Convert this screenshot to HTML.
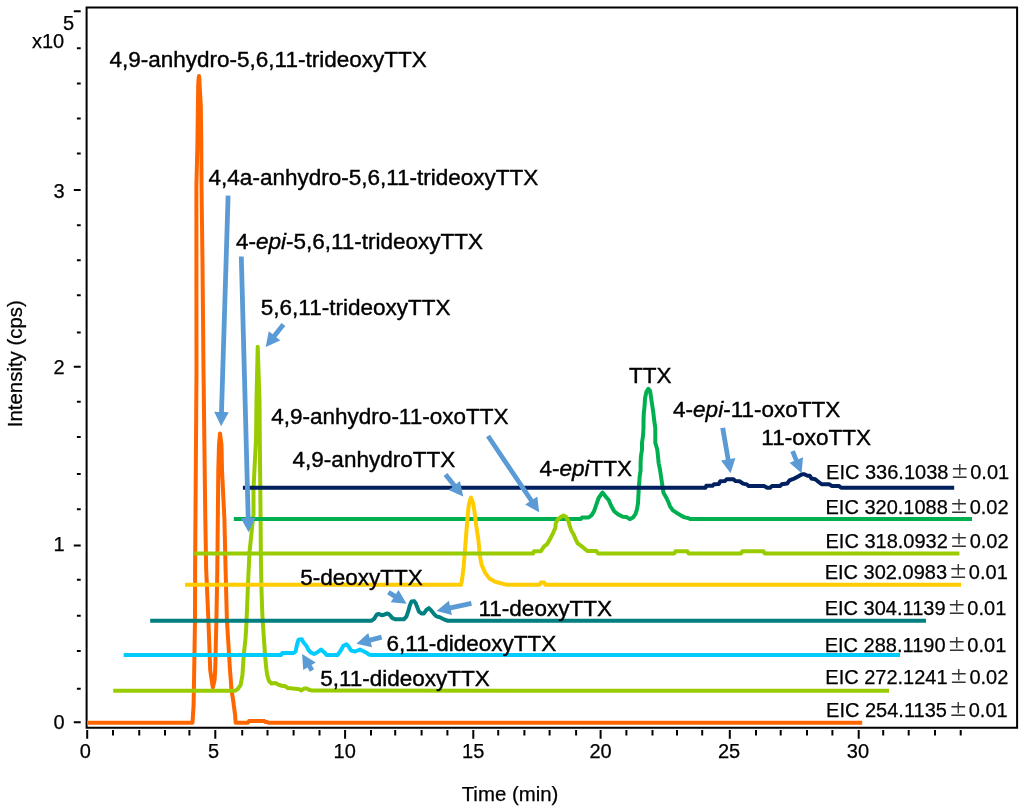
<!DOCTYPE html><html><head><meta charset="utf-8"><title>EIC chromatogram</title><style>html,body{margin:0;padding:0;background:#fff;}svg{display:block;}text{font-family:"Liberation Sans", Arial, sans-serif;fill:#000;}</style></head><body>
<svg width="1024" height="812" viewBox="0 0 1024 812">
<rect x="0" y="0" width="1024" height="812" fill="#fff"/>
<path d="M86.6 7.6 H1017.1 V727.8 H86.6 Z" fill="none" stroke="#000" stroke-width="2"/>
<path d="M73.8 722.25H80.7M73.8 545.6H80.7M73.8 366.7H80.7M73.8 189.9H80.7M73.8 11.3H80.7M76.9 48.3H80.7M76.9 83.5H80.7M76.9 118.5H80.7M76.9 153.6H80.7M76.9 225.2H80.7M76.9 260.3H80.7M76.9 295.2H80.7M76.9 332.6H80.7M76.9 401.8H80.7M76.9 436.9H80.7M76.9 474.1H80.7M76.9 509.2H80.7M76.9 579.8H80.7M76.9 615.8H80.7M76.9 651.1H80.7M76.9 688.7H80.7" stroke="#000" stroke-width="2" fill="none"/>
<text x="64.6" y="728.5" font-size="20" text-anchor="end" stroke="#000" stroke-width="0.25">0</text>
<text x="64.6" y="551.3" font-size="20" text-anchor="end" stroke="#000" stroke-width="0.25">1</text>
<text x="64.6" y="374.3" font-size="20" text-anchor="end" stroke="#000" stroke-width="0.25">2</text>
<text x="64.6" y="197.5" font-size="20" text-anchor="end" stroke="#000" stroke-width="0.25">3</text>
<path d="M87.20 730.1V738.8M113.00 730.1V735.5M139.25 730.1V735.5M165.00 730.1V735.5M189.40 730.1V735.5M215.30 730.1V738.8M242.20 730.1V735.5M267.50 730.1V735.5M293.60 730.1V735.5M319.50 730.1V735.5M345.10 730.1V738.8M371.00 730.1V735.5M395.20 730.1V735.5M421.60 730.1V735.5M447.40 730.1V735.5M473.30 730.1V738.8M498.20 730.1V735.5M524.40 730.1V735.5M549.60 730.1V735.5M576.10 730.1V735.5M600.60 730.1V738.8M626.40 730.1V735.5M652.50 730.1V735.5M677.00 730.1V735.5M702.20 730.1V735.5M729.80 730.1V738.8M756.00 730.1V735.5M780.70 730.1V735.5M807.00 730.1V735.5M832.40 730.1V735.5M858.70 730.1V738.8M883.20 730.1V735.5M908.70 730.1V735.5M935.00 730.1V735.5M960.70 730.1V735.5" stroke="#000" stroke-width="2" fill="none"/>
<text x="85.30" y="758" font-size="20" text-anchor="middle" stroke="#000" stroke-width="0.25">0</text>
<text x="213.60" y="758" font-size="20" text-anchor="middle" stroke="#000" stroke-width="0.25">5</text>
<text x="344.70" y="758" font-size="20" text-anchor="middle" stroke="#000" stroke-width="0.25">10</text>
<text x="473.20" y="758" font-size="20" text-anchor="middle" stroke="#000" stroke-width="0.25">15</text>
<text x="600.50" y="758" font-size="20" text-anchor="middle" stroke="#000" stroke-width="0.25">20</text>
<text x="729.00" y="758" font-size="20" text-anchor="middle" stroke="#000" stroke-width="0.25">25</text>
<text x="857.90" y="758" font-size="20" text-anchor="middle" stroke="#000" stroke-width="0.25">30</text>
<text x="510" y="800.8" font-size="20.4" text-anchor="middle" stroke="#000" stroke-width="0.25">Time (min)</text>
<text transform="translate(22.2 363.7) rotate(-90)" x="0" y="0" font-size="20.4" text-anchor="middle" stroke="#000" stroke-width="0.25">Intensity (cps)</text>
<text x="32" y="48.1" font-size="20" stroke="#000" stroke-width="0.25">x10</text>
<text x="63" y="30.2" font-size="20" stroke="#000" stroke-width="0.25">5</text>
<path d="M87.0 722.7 L192.5 722.7 L193.6 705.0 L194.2 670.0 L195.0 620.0 L195.1 570.0 L195.8 470.0 L196.5 370.0 L196.4 265.0 L196.4 185.0 L197.4 145.0 L197.9 105.0 L198.2 85.0 L198.6 78.5 L199.0 76.0 L199.4 78.5 L199.6 85.0 L200.8 105.0 L201.3 145.0 L201.5 185.0 L202.0 224.0 L202.5 264.0 L203.5 370.0 L204.7 470.0 L205.3 519.0 L206.2 570.0 L208.4 620.0 L210.2 670.0 L212.8 687.5 L214.6 680.0 L215.2 670.0 L216.4 620.0 L217.3 570.0 L218.3 470.0 L219.0 445.0 L220.0 433.5 L221.5 445.0 L222.0 470.0 L224.4 519.0 L225.6 570.0 L226.9 620.0 L230.0 670.0 L231.5 690.0 L233.1 700.0 L235.1 715.0 L235.6 722.7 L247.8 722.7 L249.0 721.1 L264.5 721.1 L265.5 722.1 L267.5 722.1 L268.5 722.7 L862.2 722.7" fill="none" stroke="#FF6600" stroke-width="4" stroke-linejoin="round" stroke-linecap="butt"/>
<path d="M113.2 690.7 L235.5 690.7 L237.5 689.2 L240.5 685.3 L242.4 675.4 L243.6 657.0 L245.5 638.5 L246.3 626.0 L247.3 601.6 L248.3 577.0 L249.5 552.0 L250.8 540.0 L252.2 526.0 L253.5 514.0 L253.5 489.0 L254.7 464.6 L256.0 440.0 L256.5 400.0 L257.7 346.8 L259.5 400.0 L259.8 440.0 L260.2 480.0 L260.6 520.0 L260.9 560.0 L261.5 590.0 L262.3 614.0 L263.3 630.0 L263.9 638.5 L265.2 657.0 L266.4 669.5 L267.4 675.9 L269.0 681.0 L271.5 683.5 L275.3 682.9 L278.5 684.8 L281.7 685.7 L285.5 686.3 L287.4 687.9 L293.1 688.6 L299.4 689.2 L301.3 690.5 L303.9 688.6 L307.1 688.6 L309.0 689.8 L312.0 690.6 L889.0 690.7" fill="none" stroke="#99CC00" stroke-width="4" stroke-linejoin="round" stroke-linecap="butt"/>
<path d="M123.6 655.1 L280.9 655.1 L282.4 653.0 L293.6 653.0 L295.6 651.5 L297.0 644.7 L298.5 639.8 L301.9 639.3 L303.4 642.3 L306.3 645.7 L308.3 649.6 L310.7 652.5 L314.1 654.0 L317.1 652.5 L321.0 649.6 L323.9 652.0 L326.8 655.0 L337.6 655.0 L340.5 651.0 L343.4 645.7 L346.4 644.2 L348.3 646.2 L351.2 650.6 L355.1 651.5 L360.0 649.6 L363.0 651.0 L366.9 653.0 L368.8 654.5 L371.8 655.1 L900.0 655.1" fill="none" stroke="#00CCFF" stroke-width="4" stroke-linejoin="round" stroke-linecap="butt"/>
<path d="M150.2 620.7 L371.6 620.7 L374.1 618.9 L376.6 614.7 L378.3 613.9 L381.6 615.2 L384.1 614.7 L387.4 613.5 L389.1 614.3 L392.4 618.1 L395.7 619.3 L404.0 619.3 L406.5 616.4 L408.2 611.4 L409.8 605.6 L411.5 601.5 L414.0 601.1 L415.6 603.1 L417.3 607.3 L418.9 611.4 L421.4 613.5 L423.9 613.5 L426.4 609.8 L428.9 608.1 L431.4 610.6 L433.9 613.9 L436.4 616.4 L439.7 617.2 L442.2 618.5 L444.7 619.7 L447.2 620.7 L926.0 620.7" fill="none" stroke="#008080" stroke-width="4" stroke-linejoin="round" stroke-linecap="butt"/>
<path d="M233.8 519.1 L580.8 519.1 L582.0 517.5 L588.6 517.5 L591.7 515.2 L594.1 511.0 L597.0 502.7 L598.6 498.0 L602.5 492.5 L605.6 496.4 L608.8 500.3 L611.1 505.8 L614.2 511.3 L618.1 514.4 L622.8 516.7 L626.7 517.1 L629.8 519.1 L633.0 517.5 L635.3 514.4 L636.9 509.7 L638.0 503.4 L638.4 495.6 L638.8 487.8 L639.2 483.8 L639.6 477.0 L640.6 470.2 L640.6 463.3 L640.9 456.5 L642.0 449.7 L642.0 442.8 L643.0 436.0 L643.5 428.0 L643.5 420.6 L643.8 413.2 L644.6 405.8 L645.0 398.5 L646.4 391.8 L648.3 388.8 L650.1 391.1 L651.2 398.5 L652.3 405.8 L653.4 413.2 L654.2 420.6 L655.3 428.0 L655.3 442.8 L657.3 449.7 L658.0 456.5 L658.7 463.3 L660.1 470.2 L661.1 477.0 L662.1 483.8 L663.5 492.8 L665.9 496.9 L668.2 501.6 L670.0 506.3 L672.9 510.4 L676.4 512.7 L681.1 515.6 L684.6 517.4 L688.1 518.0 L690.5 519.1 L972.0 519.1" fill="none" stroke="#00B050" stroke-width="4" stroke-linejoin="round" stroke-linecap="butt"/>
<path d="M242.9 487.7 L705.5 487.7 L706.3 485.8 L712.5 485.8 L714.1 484.2 L718.8 484.0 L720.3 481.3 L725.0 480.9 L726.6 479.3 L733.6 479.3 L735.2 480.9 L739.8 481.3 L743.0 483.6 L746.9 484.4 L748.4 486.0 L764.1 486.0 L767.2 487.7 L770.3 487.7 L771.9 486.0 L780.2 485.9 L781.7 484.3 L787.2 483.5 L789.5 480.4 L792.7 479.2 L795.0 478.1 L798.1 476.5 L802.0 474.2 L804.4 474.2 L807.5 475.7 L809.8 475.7 L811.4 478.5 L815.3 479.2 L817.7 481.2 L821.6 484.3 L829.4 484.3 L831.7 485.9 L838.8 485.9 L841.1 487.7 L954.2 487.7" fill="none" stroke="#002060" stroke-width="4" stroke-linejoin="round" stroke-linecap="butt"/>
<path d="M185.1 584.7 L461.0 584.7 L461.9 580.7 L463.6 566.9 L465.3 546.2 L466.6 529.0 L467.6 516.9 L468.8 504.8 L470.9 497.6 L473.1 503.1 L474.5 511.7 L476.2 525.5 L478.3 539.3 L480.0 556.6 L481.7 565.2 L485.2 572.9 L489.5 578.6 L494.7 581.6 L499.0 582.8 L504.1 584.1 L506.0 584.7 L539.8 584.7 L540.8 582.6 L544.2 582.6 L545.2 584.7 L961.0 584.7" fill="none" stroke="#FFCC00" stroke-width="4" stroke-linejoin="round" stroke-linecap="butt"/>
<path d="M194.2 553.4 L533.1 553.4 L534.0 551.2 L540.9 551.2 L544.1 546.4 L547.2 544.1 L550.3 538.6 L553.4 532.3 L555.4 527.7 L555.8 523.0 L558.1 519.1 L561.3 516.7 L563.6 515.4 L565.9 516.7 L568.3 520.6 L569.8 526.1 L571.4 530.8 L573.8 534.7 L575.3 538.6 L577.7 543.3 L580.8 545.6 L584.7 548.8 L587.8 551.1 L596.4 551.1 L598.0 553.4 L674.4 553.4 L675.5 551.3 L687.3 551.3 L688.4 553.4 L741.2 553.4 L742.3 551.3 L763.5 551.3 L764.6 553.4 L959.4 553.4" fill="none" stroke="#99CC00" stroke-width="4" stroke-linejoin="round" stroke-linecap="butt"/>
<polygon points="225.7,195.6 219.1,411.9 214.2,411.8 221.1,426.2 228.8,412.2 223.9,412.1 230.5,195.8" fill="#5B9BD5"/>
<polygon points="238.9,256.6 245.8,518.1 240.9,518.2 248.6,532.2 255.5,517.8 250.6,517.9 243.7,256.4" fill="#5B9BD5"/>
<polygon points="281.5,323.1 272.6,334.3 268.8,331.3 265.7,346.9 280.2,340.4 276.4,337.3 285.3,326.1" fill="#5B9BD5"/>
<polygon points="486.0,437.3 529.3,501.8 525.2,504.6 539.2,512.3 537.3,496.4 533.3,499.2 490.0,434.7" fill="#5B9BD5"/>
<polygon points="443.6,476.0 452.5,487.0 448.6,490.1 463.2,496.5 460.0,480.9 456.2,484.0 447.4,473.0" fill="#5B9BD5"/>
<polygon points="720.3,428.2 725.8,459.7 721.0,460.6 730.6,473.3 735.4,458.0 730.5,458.9 725.1,427.4" fill="#5B9BD5"/>
<polygon points="790.4,452.1 794.0,461.0 789.5,462.8 801.6,473.2 803.0,457.3 798.4,459.2 794.8,450.3" fill="#5B9BD5"/>
<polygon points="387.1,594.2 393.3,598.2 390.7,602.3 406.6,603.8 398.5,590.0 395.9,594.1 389.7,590.2" fill="#5B9BD5"/>
<polygon points="470.9,601.1 449.9,605.6 448.9,600.8 436.5,610.9 451.9,615.1 450.9,610.3 471.9,605.7" fill="#5B9BD5"/>
<polygon points="381.0,634.8 369.5,637.8 368.3,633.1 356.4,643.8 372.0,647.2 370.8,642.5 382.2,639.4" fill="#5B9BD5"/>
<polygon points="314.1,669.3 311.5,665.0 315.7,662.4 302.1,654.0 303.2,669.9 307.4,667.4 309.9,671.7" fill="#5B9BD5"/>
<text x="109.5" y="67.3" font-size="22.5" stroke="#000" stroke-width="0.4">4,9-anhydro-5,6,11-trideoxyTTX</text>
<text x="208.6" y="185.2" font-size="22.5" stroke="#000" stroke-width="0.4">4,4a-anhydro-5,6,11-trideoxyTTX</text>
<text x="235.9" y="249.3" font-size="22.5" stroke="#000" stroke-width="0.4">4-<tspan font-style="italic">epi</tspan>-5,6,11-trideoxyTTX</text>
<text x="260.8" y="315.2" font-size="22.5" stroke="#000" stroke-width="0.4">5,6,11-trideoxyTTX</text>
<text x="271.3" y="424.3" font-size="22.5" stroke="#000" stroke-width="0.4">4,9-anhydro-11-oxoTTX</text>
<text x="292.6" y="466.8" font-size="22.5" stroke="#000" stroke-width="0.4">4,9-anhydroTTX</text>
<text x="539.5" y="476.2" font-size="22.5" stroke="#000" stroke-width="0.4">4-<tspan font-style="italic">epi</tspan>TTX</text>
<text x="629.1" y="382.6" font-size="22.5" stroke="#000" stroke-width="0.4">TTX</text>
<text x="673.1" y="417.3" font-size="22.5" stroke="#000" stroke-width="0.4">4-<tspan font-style="italic">epi</tspan>-11-oxoTTX</text>
<text x="761.3" y="445.1" font-size="22.5" stroke="#000" stroke-width="0.4">11-oxoTTX</text>
<text x="300.3" y="585" font-size="22.5" stroke="#000" stroke-width="0.4">5-deoxyTTX</text>
<text x="478.5" y="615.5" font-size="22.5" stroke="#000" stroke-width="0.4">11-deoxyTTX</text>
<text x="386.6" y="650.8" font-size="22.5" stroke="#000" stroke-width="0.4">6,11-dideoxyTTX</text>
<text x="320.2" y="686" font-size="22.5" stroke="#000" stroke-width="0.4">5,11-dideoxyTTX</text>
<text x="826.1" y="478.8" font-size="20" stroke="#000" stroke-width="0.25">EIC 336.1038<tspan dx="1.2" font-family="IPAGothic, sans-serif" fill="#333" stroke="none">±</tspan><tspan dx="0.6">0.01</tspan></text>
<text x="825.5" y="514.1" font-size="20" stroke="#000" stroke-width="0.25">EIC 320.1088<tspan dx="1.2" font-family="IPAGothic, sans-serif" fill="#333" stroke="none">±</tspan><tspan dx="0.6">0.02</tspan></text>
<text x="825.5" y="547.8" font-size="20" stroke="#000" stroke-width="0.25">EIC 318.0932<tspan dx="1.2" font-family="IPAGothic, sans-serif" fill="#333" stroke="none">±</tspan><tspan dx="0.6">0.02</tspan></text>
<text x="824.7" y="578.5" font-size="20" stroke="#000" stroke-width="0.25">EIC 302.0983<tspan dx="1.2" font-family="IPAGothic, sans-serif" fill="#333" stroke="none">±</tspan><tspan dx="0.6">0.01</tspan></text>
<text x="824.7" y="615.3" font-size="20" stroke="#000" stroke-width="0.25">EIC 304.1139<tspan dx="1.2" font-family="IPAGothic, sans-serif" fill="#333" stroke="none">±</tspan><tspan dx="0.6">0.01</tspan></text>
<text x="824.7" y="652.3" font-size="20" stroke="#000" stroke-width="0.25">EIC 288.1190<tspan dx="1.2" font-family="IPAGothic, sans-serif" fill="#333" stroke="none">±</tspan><tspan dx="0.6">0.01</tspan></text>
<text x="825.3" y="683.6" font-size="20" stroke="#000" stroke-width="0.25">EIC 272.1241<tspan dx="1.2" font-family="IPAGothic, sans-serif" fill="#333" stroke="none">±</tspan><tspan dx="0.6">0.02</tspan></text>
<text x="826.1" y="716.6" font-size="20" stroke="#000" stroke-width="0.25">EIC 254.1135<tspan dx="1.2" font-family="IPAGothic, sans-serif" fill="#333" stroke="none">±</tspan><tspan dx="0.6">0.01</tspan></text>
</svg></body></html>
